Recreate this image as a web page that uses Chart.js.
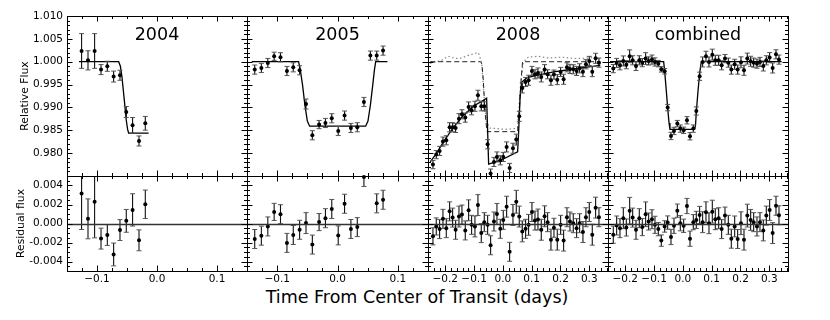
<!DOCTYPE html>
<html>
<head>
<meta charset="utf-8">
<script src="https://cdn.jsdelivr.net/npm/chart.js@4.4.0/dist/chart.umd.min.js"></script>
<style>
  body { margin: 0; background: #fff; width: 830px; height: 320px; position: relative; overflow: hidden; }
  #xlabel { position: absolute; top: 289px; left: 417px; transform: translateX(-50%);
            font: 17.5px 'DejaVu Sans', sans-serif; line-height: 1; white-space: nowrap; color: #000; }
</style>
</head>
<body>
<div id="xlabel">Time From Center of Transit (days)</div>
<script>
// ---- data ----
// 2004
const time2004 = [-0.1257, -0.1150, -0.1040, -0.0933, -0.0828, -0.0723, -0.0617, -0.0512, -0.0407, -0.0300, -0.0195];
const flux2004 = [1.00235, 1.0003, 1.00235, 0.99828, 0.9990, 0.99675, 0.99703, 0.9890, 0.9861, 0.98266, 0.98653];
const resid2004 = [0.00317, 0.00049, 0.00229, -0.00159, -0.00121, -0.00326, -0.00069, 0.00028, 0.00143, -0.00177, 0.00202];
const err2004 = [0.0038, 0.0021, 0.0038, 0.0011, 0.0011, 0.0012, 0.0011, 0.0012, 0.0017, 0.0011, 0.0015];
const modelT2004 = [-0.1300, -0.0639, -0.0610, -0.0584, -0.0545, -0.0512, -0.0490, -0.0473, -0.0140];
const modelF2004 = [1.0000, 1.0000, 0.9990, 0.9967, 0.9916, 0.9872, 0.9852, 0.9844, 0.9844];

// 2005
const time2005 = [-0.1372, -0.1262, -0.1155, -0.1050, -0.0945, -0.0838, -0.0733, -0.0628, -0.0522, -0.0417, -0.0305,
  -0.0200, -0.0095, 0.0012, 0.0117, 0.0222, 0.0328, 0.0438, 0.0545, 0.0650, 0.0755];
const flux2005 = [0.99828, 0.99863, 0.99972, 1.00119, 1.00097, 0.99797, 0.99878, 0.99813, 0.99075, 0.98391, 0.98625,
  0.98660, 0.98763, 0.98485, 0.98822, 0.98551, 0.98566, 0.99119, 1.00134, 1.00134, 1.00243];
const resid2005 = [-0.00163, -0.00128, -0.00031, 0.00122, 0.00098, -0.00204, -0.00121, -0.00066, 0.00004, -0.00222, 0.00015,
  0.00056, 0.00153, -0.00125, 0.00208, -0.00058, -0.00038, 0.0049, 0.0088, 0.00212, 0.0025];
const err2005 = [0.0010, 0.0010, 0.0010, 0.0009, 0.0010, 0.0010, 0.0010, 0.0010, 0.0011, 0.0010, 0.0009,
  0.0010, 0.0010, 0.0010, 0.0010, 0.0010, 0.0010, 0.0010, 0.0010, 0.0010, 0.0010];
const modelT2005 = [-0.1422, -0.0645, -0.0620, -0.0580, -0.0540, -0.0500, -0.0462, 0.0467, 0.0505, 0.0545, 0.0585, 0.0612, 0.0633, 0.0828];
const modelF2005 = [1.0000, 1.0000, 0.9985, 0.9950, 0.9905, 0.9870, 0.9859, 0.9859, 0.9870, 0.9905, 0.9950, 0.9982, 1.0000, 1.0000];

// 2008
const time2008 = [-0.2428, -0.2313, -0.2197, -0.2081, -0.1965, -0.1850, -0.1745, -0.1641, -0.1525, -0.1421,
  -0.1306, -0.1190, -0.1086, -0.0970, -0.0866, -0.0750, -0.0646, -0.0530, -0.0426, -0.0310,
  -0.0206, -0.0090, 0.0014, 0.0130, 0.0234, 0.0350, 0.0465, 0.0569, 0.0674, 0.0789,
  0.0893, 0.1009, 0.1114, 0.1218, 0.1333, 0.1449, 0.1553, 0.1669, 0.1773, 0.1889,
  0.2005, 0.2109, 0.2225, 0.2329, 0.2444, 0.2560, 0.2664, 0.2780, 0.2884, 0.3000,
  0.3104, 0.3220, 0.3336];
const flux2008 = [0.97749, 0.97968, 0.98048, 0.98252, 0.98282, 0.98566, 0.98566, 0.98551, 0.98755, 0.98850,
  0.98777, 0.99011, 0.98938, 0.99025, 0.99266, 0.99025, 0.99025, 0.98194, 0.97553, 0.97808,
  0.97917, 0.97844, 0.97917, 0.98136, 0.97676, 0.98107, 0.98296, 0.98806, 0.99426, 0.99557,
  0.99594, 0.99798, 0.99725, 0.99754, 0.99667, 0.99827, 0.99725, 0.99594, 0.99718, 0.99608,
  0.99776, 0.99616, 0.99878, 0.99842, 0.99834, 0.99798, 0.99856, 0.99783, 0.99944, 1.00017,
  0.99783, 1.00075, 0.99980];
const resid2008 = [-0.00135, -0.00031, -0.00059, 0.00049, -0.00049, 0.00128, 0.00062, -0.00066, 0.00073, 0.00094,
  -0.00073, 0.00139, -0.00014, -0.00031, 0.00194, -0.00101, 0.00014, -0.00014, -0.00229, 0.00021,
  0.00101, -0.00056, 0.00038, 0.00177, -0.00298, 0.00090, 0.00229, 0.00073, -0.00083, -0.00056,
  -0.00014, 0.00121, 0.00031, 0.00042, -0.00066, 0.00076, 0.00014, -0.00170, -0.00045, -0.00170,
  -0.00014, -0.00180, 0.00066, 0.00021, 0.00003, -0.00049, 0.00003, -0.00090, 0.00066, 0.00121,
  -0.00118, 0.00167, 0.00066];
const err2008 = [0.0009, 0.0009, 0.0010, 0.0010, 0.0010, 0.0010, 0.0010, 0.0010, 0.0011, 0.0010,
  0.0010, 0.0011, 0.0010, 0.0011, 0.0011, 0.0010, 0.0010, 0.0010, 0.0010, 0.0010,
  0.0011, 0.0010, 0.0010, 0.0011, 0.0010, 0.0011, 0.0012, 0.0011, 0.0011, 0.0010,
  0.0011, 0.0010, 0.0010, 0.0011, 0.0011, 0.0011, 0.0010, 0.0011, 0.0010, 0.0011,
  0.0010, 0.0011, 0.0010, 0.0010, 0.0010, 0.0010, 0.0010, 0.0011, 0.0010, 0.0010,
  0.0011, 0.0011, 0.0010];
const modelT2008 = [-0.2521, -0.2289, -0.2058, -0.1711, -0.1363, -0.1016, -0.0634, -0.0565, -0.0530, -0.0495, -0.0090,
  0.0512, 0.0550, 0.0600, 0.0650, 0.0836, 0.1299, 0.1762, 0.2340, 0.2919, 0.3382];
const modelF2008 = [0.9781, 0.9801, 0.9825, 0.9857, 0.9883, 0.9903, 0.9917, 0.9920, 0.9850, 0.9776, 0.9784,
  0.9803, 0.9850, 0.9925, 0.9955, 0.9965, 0.9972, 0.9978, 0.9983, 0.9988, 0.9992];
// transit model without the trend (dashed)
const flatT2008 = [-0.2521, -0.0780, -0.0727, -0.0680, -0.0620, -0.0553, 0.0509, 0.0560, 0.0620, 0.0683, 0.3382];
const flatF2008 = [1.0000, 1.0000, 0.9995, 0.9960, 0.9890, 0.9847, 0.9847, 0.9880, 0.9950, 1.0000, 1.0000];
// detrended curve (grey dotted)
const detrT2008 = [-0.2532, -0.2359, -0.2127, -0.1896, -0.1664, -0.1433, -0.1201, -0.0970, -0.0854, -0.0738, -0.0660,
  -0.0580, -0.0449, 0.0072, 0.0442, 0.0509, 0.0600, 0.0708, 0.0882, 0.1229, 0.1576, 0.2039, 0.2502, 0.2965, 0.3313];
const detrF2008 = [0.9996, 0.9999, 1.0003, 1.0012, 1.0007, 1.0008, 1.0014, 1.0018, 1.0020, 0.9999, 0.9930,
  0.9870, 0.9855, 0.9852, 0.9854, 0.9855, 0.9940, 0.9999, 1.0010, 1.0012, 1.0008, 1.0010, 1.0007, 1.0008, 1.0010];

// combined
const timeComb = [-0.2416, -0.2300, -0.2184, -0.2068, -0.1964, -0.1848, -0.1744, -0.1628, -0.1513, -0.1409,
  -0.1293, -0.1189, -0.1073, -0.0969, -0.0853, -0.0749, -0.0633, -0.0529, -0.0413, -0.0309,
  -0.0193, -0.0089, 0.0027, 0.0142, 0.0247, 0.0362, 0.0466, 0.0582, 0.0686, 0.0802,
  0.0906, 0.1022, 0.1126, 0.1242, 0.1346, 0.1462, 0.1578, 0.1682, 0.1798, 0.1902,
  0.2017, 0.2122, 0.2237, 0.2353, 0.2457, 0.2573, 0.2677, 0.2793, 0.2897, 0.3013,
  0.3117, 0.3233, 0.3337];
const fluxComb = [0.99849, 0.99973, 0.99922, 1.00017, 0.99936, 1.00119, 1.00031, 0.99907, 1.00031, 0.99980,
  1.00068, 1.00017, 1.00046, 0.99995, 0.99958, 0.99834, 0.99791, 0.98996, 0.98376, 0.98486,
  0.98646, 0.98537, 0.98500, 0.98719, 0.98369, 0.98537, 0.98923, 0.99681, 0.99995, 1.00119,
  0.99995, 1.00155, 1.00031, 1.00031, 0.99922, 1.00068, 0.99980, 0.99827, 0.99944, 0.99827,
  0.99987, 0.99812, 1.00068, 1.00009, 0.99980, 0.99958, 0.99995, 0.99907, 1.00031, 1.00090,
  0.99863, 1.00162, 1.00046];
const residComb = [-0.00118, -0.00021, -0.00049, 0.00056, -0.00042, 0.00135, 0.00062, -0.00066, 0.00056, -0.00038,
  0.00097, 0.00021, 0.00045, -0.00014, -0.00059, -0.00180, -0.00031, 0.00010, -0.00142, -0.00024,
  0.00135, 0.00003, -0.00024, 0.00184, -0.00160, 0.00014, 0.00038, 0.00090, 0.00014, 0.00118,
  0.00003, 0.00125, 0.00045, 0.00056, -0.00059, 0.00083, -0.00014, -0.00160, -0.00031, -0.00163,
  0.00003, -0.00170, 0.00083, 0.00038, 0.00014, -0.00031, 0.00014, -0.00073, 0.00083, 0.00142,
  -0.00101, 0.00187, 0.00087];
const errComb = [0.0009, 0.0010, 0.0010, 0.0011, 0.0009, 0.0014, 0.0010, 0.0010, 0.0010, 0.0009,
  0.0013, 0.0009, 0.0010, 0.0009, 0.0007, 0.0006, 0.0006, 0.0007, 0.0008, 0.0008,
  0.0007, 0.0008, 0.0007, 0.0008, 0.0008, 0.0008, 0.0009, 0.0009, 0.0011, 0.0011,
  0.0011, 0.0012, 0.0011, 0.0011, 0.0010, 0.0009, 0.0010, 0.0010, 0.0011, 0.0010,
  0.0012, 0.0011, 0.0012, 0.0011, 0.0010, 0.0010, 0.0010, 0.0011, 0.0010, 0.0011,
  0.0011, 0.0010, 0.0010];
const modelTComb = [-0.2530, -0.0668, -0.0633, -0.0580, -0.0529, -0.0480, -0.0449, 0.0409, 0.0440, 0.0466, 0.0524, 0.0582, 0.0640, 0.3430];
const modelFComb = [1.0000, 1.0000, 0.9980, 0.9940, 0.9899, 0.9866, 0.9852, 0.9852, 0.9862, 0.9890, 0.9935, 0.9975, 1.0000, 1.0000];

// axes
const fluxRange = [0.975, 1.010];
const residRange = [-0.005, 0.005];
const fluxTicks = [0.980, 0.985, 0.990, 0.995, 1.000, 1.005, 1.010];
const residTicks = [-0.004, -0.002, 0.000, 0.002, 0.004];
const xTicksNarrow = [-0.1, 0.0, 0.1];
const xTicksWide = [-0.2, -0.1, 0.0, 0.1, 0.2, 0.3];
const panelLabels = ['2004', '2005', '2008', 'combined'];

// ---- layout (px) ----
const colLeft = [67, 247, 428, 608];
const colRight = [247, 428, 608, 788];
const rowTop = [16, 176];
const rowBottom = [176, 271];

Chart.defaults.font.family = "'DejaVu Sans', sans-serif";
Chart.defaults.font.size = 10.5;
Chart.defaults.color = '#000';

// error bars under the markers
const errorBars = {
  id: 'errorBars',
  beforeDatasetDraw(chart, args) {
    const ds = chart.data.datasets[args.index];
    if (!ds.errors) return;
    const {ctx, chartArea: a, scales: {x, y}} = chart;
    ctx.save();
    ctx.beginPath();
    ctx.rect(a.left, a.top, a.right - a.left, a.bottom - a.top);
    ctx.clip();
    ds.data.forEach((p, i) => {
      const px = x.getPixelForValue(p.x);
      const lo = y.getPixelForValue(p.y - ds.errors[i]);
      const hi = y.getPixelForValue(p.y + ds.errors[i]);
      ctx.strokeStyle = '#111';
      ctx.lineWidth = 1.1;
      ctx.beginPath();
      ctx.moveTo(px, lo);
      ctx.lineTo(px, hi);
      ctx.stroke();
      ctx.strokeStyle = '#555';
      ctx.lineWidth = 1;
      ctx.beginPath();
      ctx.moveTo(px - 2.5, lo); ctx.lineTo(px + 2.5, lo);
      ctx.moveTo(px - 2.5, hi); ctx.lineTo(px + 2.5, hi);
      ctx.stroke();
    });
    ctx.restore();
  }
};

// frame, inward ticks on all four sides, zero line and the panel label
const panelFrame = {
  id: 'panelFrame',
  afterDraw(chart, args, opts) {
    const {ctx, chartArea: a, scales: {x, y}} = chart;
    const snap = v => Math.round(v) + 0.5;
    ctx.save();
    if (opts.zeroLine) {
      const yz = snap(y.getPixelForValue(0));
      ctx.strokeStyle = '#333';
      ctx.lineWidth = 1.3;
      ctx.beginPath();
      ctx.moveTo(a.left, yz);
      ctx.lineTo(a.right, yz);
      ctx.stroke();
    }
    ctx.strokeStyle = '#000';
    ctx.lineWidth = 1;
    ctx.beginPath();
    const marks = (scale, step, len) => {
      const n0 = Math.ceil(scale.min / step - 1e-6);
      const n1 = Math.floor(scale.max / step + 1e-6);
      for (let n = n0; n <= n1; n++) {
        const p = snap(scale.getPixelForValue(n * step));
        if (scale.isHorizontal()) {
          ctx.moveTo(p, a.bottom); ctx.lineTo(p, a.bottom - len);
          ctx.moveTo(p, a.top); ctx.lineTo(p, a.top + len);
        } else {
          ctx.moveTo(a.left, p); ctx.lineTo(a.left + len, p);
          ctx.moveTo(a.right, p); ctx.lineTo(a.right - len, p);
        }
      }
    };
    marks(x, opts.xMinor, 3);
    marks(x, opts.xMajor, 5.5);
    marks(y, opts.yMinor, 3);
    marks(y, opts.yMajor, 5.5);
    ctx.stroke();
    ctx.strokeRect(a.left + 0.5, a.top + 0.5, a.right - a.left, a.bottom - a.top);
    if (opts.label) {
      ctx.fillStyle = '#000';
      ctx.font = "17.5px 'DejaVu Sans', sans-serif";
      ctx.textAlign = 'center';
      ctx.textBaseline = 'alphabetic';
      ctx.fillText(opts.label, (a.left + a.right) / 2, a.top + 24);
    }
    ctx.restore();
  }
};

const xy = (xs, ys) => xs.map((v, i) => ({x: v, y: ys[i]}));

function pointSet(xs, ys, errs) {
  return {
    data: xy(xs, ys), errors: errs, showLine: false,
    pointRadius: 2, pointBackgroundColor: '#000', pointBorderWidth: 0, clip: 3
  };
}

function lineSet(xs, ys, extra) {
  return Object.assign({
    data: xy(xs, ys), showLine: true, pointRadius: 0,
    borderColor: '#000', borderWidth: 1.3, clip: 0
  }, extra);
}

function makePanel(col, row, xRange, xTicks, xMinor, datasets) {
  const first = col === 0;
  const bottom = row === 1;
  const axisW = first ? 67 : 0;
  const axisH = bottom ? 22 : 0;
  const m = {left: first ? 67 : 10, top: 10, right: 12, bottom: bottom ? 34 : 8};
  const w = colRight[col] - colLeft[col] + m.left + m.right;
  const h = rowBottom[row] - rowTop[row] + m.top + m.bottom;
  const canvas = document.createElement('canvas');
  canvas.width = w;
  canvas.height = h;
  canvas.style.cssText = 'position:absolute;left:' + (colLeft[col] - m.left) + 'px;top:' +
    (rowTop[row] - m.top) + 'px;width:' + w + 'px;height:' + h + 'px';
  document.body.appendChild(canvas);

  const yRange = bottom ? residRange : fluxRange;
  const yTicks = bottom ? residTicks : fluxTicks;

  return new Chart(canvas, {
    type: 'scatter',
    data: {datasets},
    options: {
      responsive: false,
      animation: false,
      devicePixelRatio: 1,
      events: [],
      layout: {padding: {left: m.left - axisW, top: m.top, right: m.right, bottom: m.bottom - axisH}},
      plugins: {
        legend: {display: false},
        tooltip: {enabled: false},
        panelFrame: {
          xMajor: 0.1, xMinor: xMinor,
          yMajor: bottom ? 0.002 : 0.005, yMinor: bottom ? 0.0005 : 0.001,
          zeroLine: bottom, label: bottom ? '' : panelLabels[col]
        }
      },
      scales: {
        x: {
          type: 'linear', min: xRange[0], max: xRange[1], display: bottom,
          grid: {display: false, drawTicks: false}, border: {display: false},
          ticks: {padding: 2, autoSkip: false, maxRotation: 0,
            callback: v => (v < 0 ? '\u2212' : '') + Math.abs(v).toFixed(1)},
          afterBuildTicks: s => { s.ticks = xTicks.map(v => ({value: v})); },
          afterFit: s => { s.height = axisH; s.paddingLeft = 0; s.paddingRight = 0; }
        },
        y: {
          type: 'linear', min: yRange[0], max: yRange[1], display: first,
          grid: {display: false, drawTicks: false}, border: {display: false},
          ticks: {padding: 4, autoSkip: false, callback: v => v.toFixed(3)},
          title: {display: first, text: bottom ? 'Residual flux' : 'Relative Flux',
            font: {size: 10.8}, padding: {top: bottom ? 15.2 : 18.5, bottom: 0}},
          afterBuildTicks: s => { s.ticks = yTicks.map(v => ({value: v})); },
          afterFit: s => { s.width = axisW; s.paddingTop = 0; s.paddingBottom = 0; }
        }
      }
    },
    plugins: [errorBars, panelFrame]
  });
}

const narrow = [-0.15, 0.15];
const wide = [-0.26, 0.365];

// top row: light curves
makePanel(0, 0, narrow, xTicksNarrow, 0.025, [
  pointSet(time2004, flux2004, err2004), lineSet(modelT2004, modelF2004)]);
makePanel(1, 0, narrow, xTicksNarrow, 0.025, [
  pointSet(time2005, flux2005, err2005), lineSet(modelT2005, modelF2005)]);
makePanel(2, 0, wide, xTicksWide, 0.02, [
  pointSet(time2008, flux2008, err2008), lineSet(modelT2008, modelF2008),
  lineSet(flatT2008, flatF2008, {borderColor: '#222', borderWidth: 1, borderDash: [5, 3]}),
  lineSet(detrT2008, detrF2008, {borderColor: '#888', borderWidth: 1.2, borderDash: [1.5, 2.5]})]);
makePanel(3, 0, wide, xTicksWide, 0.02, [
  pointSet(timeComb, fluxComb, errComb), lineSet(modelTComb, modelFComb)]);

// bottom row: residuals
makePanel(0, 1, narrow, xTicksNarrow, 0.025, [pointSet(time2004, resid2004, err2004)]);
makePanel(1, 1, narrow, xTicksNarrow, 0.025, [pointSet(time2005, resid2005, err2005)]);
makePanel(2, 1, wide, xTicksWide, 0.02, [pointSet(time2008, resid2008, err2008)]);
makePanel(3, 1, wide, xTicksWide, 0.02, [pointSet(timeComb, residComb, errComb)]);
</script>
</body>
</html>
